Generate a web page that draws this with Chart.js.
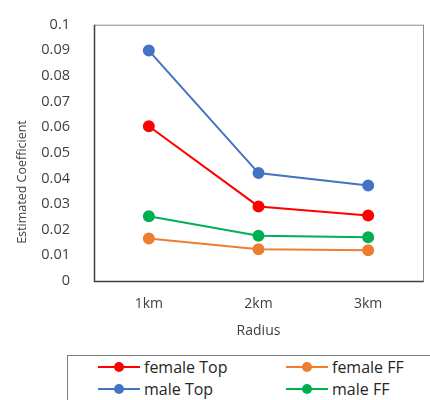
<!DOCTYPE html>
<html>
<head>
<meta charset="utf-8">
<script src="https://cdn.jsdelivr.net/npm/chart.js@4/dist/chart.umd.min.js"></script>
<style>
  body { margin: 0; background: #fff; font-family: "Open Sans", sans-serif; }
  #wrap { position: relative; width: 430px; height: 400px; overflow: hidden; }
  #chartBox { position: absolute; left: 0; top: 0; width: 430px; height: 345px; }
  #legend {
    position: absolute; left: 67px; top: 355px; width: 400px; height: 60px;
    border: 1px solid #7f7f7f; box-sizing: border-box;
  }
  .item { position: absolute; height: 20px; font-size: 16px; color: #262626; line-height: 20px; }
  .mark { position: absolute; left: 0; top: 9px; width: 42px; height: 2px; }
  .dot { position: absolute; left: 16px; top: 5px; width: 10px; height: 10px; border-radius: 50%; }
  .lbl { position: absolute; left: 46px; top: 0; white-space: nowrap; }
</style>
</head>
<body>
<div id="wrap">
  <div id="chartBox"><canvas id="chart"></canvas></div>
  <div id="legend"></div>
</div>
<script>
// categories
const radii = ["1km", "2km", "3km"];

// series values
const femaleTop = [0.0604, 0.0291, 0.0256];
const maleTop = [0.0899, 0.0421, 0.0373];
const femaleFF = [0.0166, 0.0124, 0.0120];
const maleFF = [0.0253, 0.0177, 0.0171];

const seriesNames = ["female Top", "female FF", "male Top", "male FF"];
const seriesColors = ["#ff0000", "#ed7d31", "#4472c4", "#00b050"];

const yTitle = "Estimated Coefficient";
const textColor = "#404040";

function makeSet(i, values) {
    return {
        label: seriesNames[i],
        data: values,
        borderColor: seriesColors[i],
        backgroundColor: seriesColors[i],
        borderWidth: 2,
        pointRadius: 5,
        pointHoverRadius: 5,
        tension: 0
    };
}

// frame round the plot area + y title (Excel puts it a bit below centre)
const frame = {
    id: "frame",
    beforeDatasetsDraw(chart) {
        const a = chart.chartArea;
        const ctx = chart.ctx;
        ctx.save();
        ctx.strokeStyle = "#8c8c8c";
        ctx.lineWidth = 1;
        ctx.strokeRect(a.left + 0.5, a.top + 0.5, a.right - a.left, a.bottom - a.top);
        ctx.strokeStyle = "#404040";
        ctx.lineWidth = 1.5;
        ctx.beginPath();
        ctx.moveTo(a.left + 0.5, a.top);
        ctx.lineTo(a.left + 0.5, a.bottom + 0.5);
        ctx.lineTo(a.right + 0.5, a.bottom + 0.5);
        ctx.stroke();

        ctx.translate(22, 182);
        ctx.rotate(-Math.PI / 2);
        ctx.fillStyle = textColor;
        ctx.font = "12.5px 'Open Sans'";
        ctx.textAlign = "center";
        ctx.textBaseline = "middle";
        ctx.fillText(yTitle, 0, 0);
        ctx.restore();
    }
};

const chart = new Chart(document.getElementById("chart"), {
    type: "line",
    data: {
        labels: radii,
        datasets: [
            makeSet(0, femaleTop),
            makeSet(1, femaleFF),
            makeSet(2, maleTop),
            makeSet(3, maleFF)
        ]
    },
    options: {
        responsive: true,
        maintainAspectRatio: false,
        animation: false,
        layout: { padding: { top: 20, right: 5, left: 0, bottom: 0 } },
        plugins: {
            legend: { display: false },
            tooltip: { enabled: false }
        },
        scales: {
            x: {
                offset: true,
                grid: { display: false, drawTicks: false },
                border: { display: false },
                ticks: { color: textColor, font: { family: "Open Sans", size: 14 }, padding: 15 },
                title: {
                    display: true, text: "Radius", color: textColor,
                    font: { family: "Open Sans", size: 14 }, padding: { top: 6, bottom: 6 }
                },
                afterFit(scale) { scale.height = 64; }
            },
            y: {
                min: 0,
                max: 0.1,
                grid: { display: false },
                border: { display: false },
                ticks: {
                    stepSize: 0.01,
                    color: textColor,
                    font: { family: "Open Sans", size: 14.5 },
                    padding: 16,
                    callback: v => String(Number(v.toFixed(2)))
                },
                afterFit(scale) { scale.width = 94; }
            }
        }
    },
    plugins: [frame]
});

// legend built from the datasets
const legend = document.getElementById("legend");
chart.data.datasets.forEach((ds, i) => {
    const item = document.createElement("div");
    item.className = "item";
    item.style.left = (i % 2 === 0 ? 30 : 218) + "px";
    item.style.top = (i < 2 ? 1 : 23) + "px";
    item.innerHTML =
        '<span class="mark" style="background:' + ds.borderColor + '"></span>' +
        '<span class="dot" style="background:' + ds.borderColor + '"></span>' +
        '<span class="lbl">' + ds.label + '</span>';
    legend.appendChild(item);
});
</script>
</body>
</html>
